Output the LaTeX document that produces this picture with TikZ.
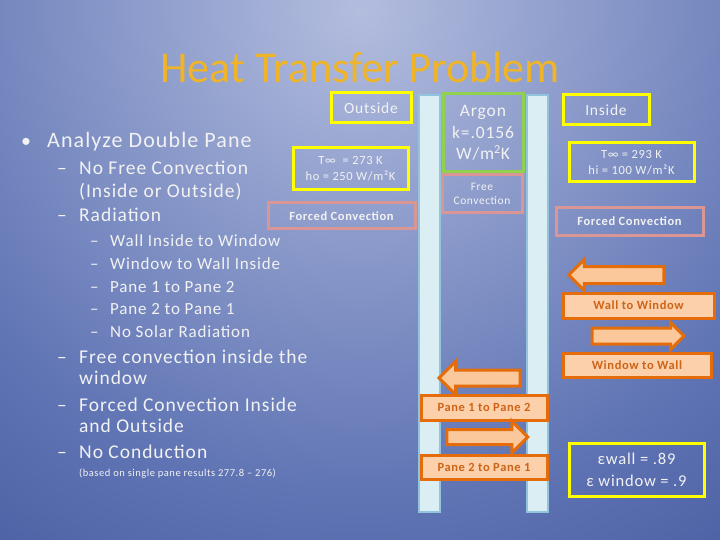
\documentclass[tikz,border=0pt]{standalone}
\usepackage{fontspec}
\setmainfont{Carlito}[LetterSpace=5]
\newfontfamily\titlefont{Carlito}
\usetikzlibrary{shapes.arrows}
\definecolor{gold}{RGB}{240,180,40}
\definecolor{yelw}{RGB}{255,255,0}
\definecolor{grn}{RGB}{146,208,80}
\definecolor{pnk}{RGB}{217,150,148}
\definecolor{orng}{RGB}{228,108,10}
\definecolor{peach}{RGB}{251,200,155}
\definecolor{otext}{RGB}{205,100,25}
\definecolor{paneedge}{RGB}{147,196,222}
\definecolor{panefill}{RGB}{218,238,243}
\definecolor{txtw}{RGB}{242,242,242}
\pgfdeclareradialshading{slidebg}{\pgfpoint{0bp}{0bp}}{%
  rgb(0bp)=(.70,.74,.87); rgb(10bp)=(.38,.46,.71); rgb(16bp)=(.25,.33,.60);
  rgb(21bp)=(.14,.22,.48); rgb(25bp)=(.09,.15,.39); rgb(50bp)=(.09,.15,.39)}
\newcommand{\fs}[1]{\fontsize{#1}{1.25\dimexpr #1pt\relax}\selectfont}
\begin{document}
\begin{tikzpicture}[x=1pt, y=-1pt,
    txt/.style={anchor=base west, inner sep=0pt, text=txtw},
    ybox/.style={draw=yelw, line width=3pt, inner sep=0pt, align=center, text=txtw},
    gbox/.style={draw=grn, line width=3pt, inner sep=0pt, align=center, text=txtw},
    pbox/.style={draw=pnk, line width=3pt, inner sep=0pt, align=center, text=txtw},
    obox/.style={draw=orng, fill=peach!85!white, line width=3pt, inner sep=0pt, text=otext, font=\fs{12.5}\bfseries},
    bigarrow/.style={single arrow, draw=orng, fill=peach, line width=3pt, inner xsep=0pt},
    pane/.style={draw=paneedge, fill=panefill, line width=2pt}]
  \useasboundingbox (0,0) rectangle (720,540);
  \begin{scope}
    \clip (0,0) rectangle (720,540);
    \shade[shading=slidebg] (360,10) circle [radius=1200pt];
  \end{scope}
  % title
  \node[font=\titlefont\fs{44}, text=gold, inner sep=0pt] (title) at (360,67) {Heat Transfer Problem};
  % left hand list
  \node[txt, font=\fs{20}] (bul) at (21,148) {•};
  \node[txt, font=\fs{22}] (analyze) at (47,148) {Analyze Double Pane};
  \node[txt, font=\fs{19.5}] at (57,175) {–};
  \node[txt, font=\fs{19.5}] (nofree) at (79,175) {No Free Convection};
  \node[txt, font=\fs{19.5}] (inout) at (79,197) {(Inside or Outside)};
  \node[txt, font=\fs{19.5}] at (57,222) {–};
  \node[txt, font=\fs{19.5}] (radn) at (79,222) {Radiation};
  \foreach \t [count=\i] in {Wall Inside to Window, Window to Wall Inside,
      Pane 1 to Pane 2, Pane 2 to Pane 1, No Solar Radiation} {
    \node[txt, font=\fs{17}] at (90,{247+22.6*(\i-1)}) {–};
    \node[txt, font=\fs{17}] (rad\i) at (110,{247+22.6*(\i-1)}) {\t};
  }
  \node[txt, font=\fs{19.5}] at (57,363) {–};
  \node[txt, font=\fs{19.5}] (freeinside) at (79,363) {Free convection inside the};
  \node[txt, font=\fs{19.5}] (window) at (79,384) {window};
  \node[txt, font=\fs{19.5}] at (57,411) {–};
  \node[txt, font=\fs{19.5}] (forced) at (79,411) {Forced Convection Inside};
  \node[txt, font=\fs{19.5}] (andout) at (79,432) {and Outside};
  \node[txt, font=\fs{19.5}] at (57,458) {–};
  \node[txt, font=\fs{19.5}] (nocond) at (79,458) {No Conduction};
  \node[txt, font=\fs{10.5}] (based) at (79,476) {(based on single pane results 277.8 – 276)};
  % panes
  \draw[pane] (419,95) rectangle (440,512);
  \draw[pane] (527,95) rectangle (548,512);
  % outside
  \node[ybox, minimum width=80pt, minimum height=30pt, font=\fs{15.5}] (outside) at (371,108) {Outside};
  \node[ybox, minimum width=115pt, minimum height=42pt, font=\fs{12.5}] (tout) at (350.5,169) {T∞ \ = 273 K\\ho = 250 W/m²K};
  \node[pbox, minimum width=147pt, minimum height=26pt, font=\fs{12.5}\bfseries] (fcout) at (341.5,216) {Forced Convection};
  % gap
  \node[gbox, minimum width=80pt, minimum height=78pt, font=\fontsize{17.5}{21.5}\selectfont] (argon) at (483,133) {Argon\\k=.0156\\W/m\textsuperscript{2}K};
  \node[pbox, minimum width=80pt, minimum height=38pt, font=\fs{11.5}] (freeconv) at (482,194) {Free\\Convection};
  % inside
  \node[ybox, minimum width=86pt, minimum height=30pt, font=\fs{15.5}] (inside) at (606,110) {Inside};
  \node[ybox, minimum width=125pt, minimum height=39pt, font=\fs{12.5}] (tin) at (631.5,162.5) {T∞ = 293 K\\hi = 100 W/m²K};
  \node[pbox, minimum width=147pt, minimum height=27pt, font=\fs{12.5}\bfseries] (fcin) at (629.5,221.5) {Forced Convection};
  % radiation arrows
  \node[bigarrow, shape border rotate=180, minimum height=95pt, inner ysep=7pt, single arrow head extend=7pt] (wallarr) at (620.5,275) {};
  \node[obox, minimum width=151pt, minimum height=25pt] (wallwin) at (638.5,305.5) {Wall to Window};
  \node[bigarrow, minimum height=92pt, inner ysep=6.5pt, single arrow head extend=5.5pt] (winarr) at (634,336) {};
  \node[obox, minimum width=148pt, minimum height=24pt] (winwall) at (637,365) {Window to Wall};
  \node[bigarrow, shape border rotate=180, minimum height=81pt, inner ysep=6.5pt, single arrow head extend=8.5pt] (p1arr) at (483.5,378) {};
  \node[obox, minimum width=126pt, minimum height=25pt] (p12) at (484,407.5) {Pane 1 to Pane 2};
  \node[bigarrow, minimum height=81pt, inner ysep=6pt, single arrow head extend=8.5pt] (p2arr) at (483.5,437) {};
  \node[obox, minimum width=126pt, minimum height=24pt] (p21) at (484,467) {Pane 2 to Pane 1};
  \node[ybox, minimum width=135pt, minimum height=53pt, font=\fontsize{16.5}{22}\selectfont] (emis) at (636.5,469.5) {εwall = .89\\ε window = .9};
\end{tikzpicture}
\end{document}
